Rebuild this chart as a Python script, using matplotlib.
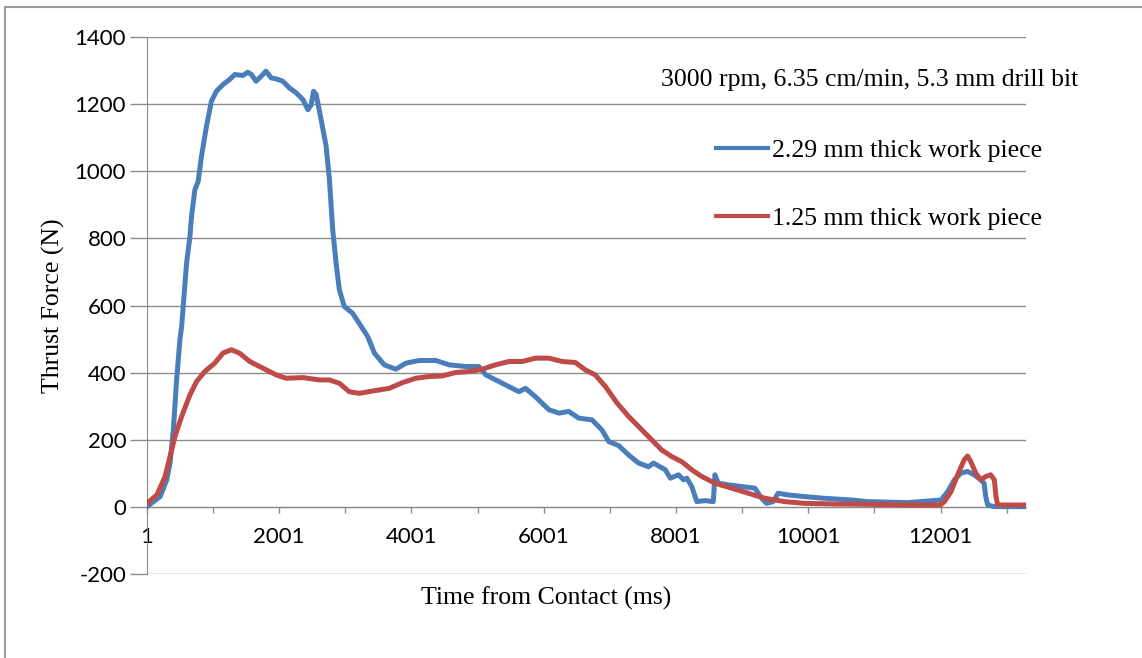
import matplotlib.pyplot as plt
from matplotlib.lines import Line2D
from matplotlib.ticker import FixedLocator

# values (ms, N)
time_thick = [1, 200, 300, 350, 400, 450, 500, 525, 600, 650, 675, 725, 775, 825,
              900, 975, 1050, 1150, 1250, 1330, 1450, 1525, 1580, 1650, 1730, 1800,
              1880, 1955, 2055, 2155, 2260, 2360, 2435, 2485, 2520, 2560, 2635, 2710,
              2760, 2810, 2860, 2910, 2985, 3110, 3210, 3340, 3440, 3590, 3765, 3915,
              4117, 4370, 4570, 4820, 5020, 5125, 5325, 5525, 5625, 5725, 5875, 6080,
              6230, 6380, 6530, 6730, 6880, 6985, 7135, 7285, 7435, 7585, 7660, 7840,
              7915, 8040, 8115, 8165, 8240, 8315, 8440, 8565, 8590, 8640, 8795, 8995,
              9195, 9295, 9370, 9470, 9545, 9695, 9945, 10245, 10650, 10900, 11500,
              12010, 12110, 12210, 12310, 12410, 12510, 12610, 12660, 12685, 12715,
              12815, 13290]
force_thick = [0, 30, 80, 130, 230, 380, 500, 537, 727, 805, 866, 945, 970, 1045,
               1134, 1209, 1239, 1259, 1274, 1289, 1286, 1296, 1289, 1269, 1284, 1299,
               1279, 1276, 1269, 1249, 1234, 1214, 1184, 1199, 1239, 1229, 1154, 1075,
               975, 826, 727, 647, 597, 577, 547, 507, 458, 423, 410, 428,
               436, 436, 423, 418, 418, 393, 373, 353, 343, 353, 328, 289,
               279, 284, 264, 259, 229, 194, 182, 154, 130, 119, 130, 110,
               85, 95, 80, 85, 60, 15, 18, 15, 95, 70, 65, 60,
               55, 25, 10, 15, 40, 35, 30, 25, 20, 15, 12,
               20, 45, 80, 100, 105, 95, 80, 70, 30, 5,
               0, 0]

time_thin = [1, 150, 275, 350, 425, 525, 650, 750, 875, 1025, 1150, 1275, 1400,
             1555, 1755, 1955, 2105, 2360, 2610, 2760, 2910, 3060, 3210, 3415, 3665,
             3865, 4065, 4265, 4465, 4665, 4870, 5070, 5270, 5475, 5675, 5875, 6080,
             6280, 6480, 6630, 6780, 6935, 7110, 7285, 7485, 7635, 7785, 7940, 8090,
             8240, 8390, 8590, 8845, 9095, 9345, 9645, 9945, 10400, 10900, 11500,
             12000, 12060, 12160, 12260, 12360, 12410, 12460, 12535, 12610, 12685,
             12760, 12815, 12840, 12865, 13290]
force_thin = [10, 35, 90, 150, 210, 269, 333, 373, 403, 428, 458, 468, 458,
              433, 413, 393, 383, 385, 378, 378, 368, 343, 338, 345, 353,
              370, 383, 388, 390, 400, 403, 410, 423, 433, 433, 443, 443,
              433, 430, 408, 393, 358, 309, 269, 229, 199, 169, 149, 134,
              110, 90, 70, 55, 40, 25, 15, 10, 8, 7, 5,
              5, 15, 45, 95, 140, 151, 134, 100, 80, 90,
              95, 80, 30, 5, 5]

labels = ['2.29 mm thick work piece', '1.25 mm thick work piece']
x_labels = [1, 2001, 4001, 6001, 8001, 10001, 12001]
x_minor = [1001, 3001, 5001, 7001, 9001, 11001, 13001]
y_ticks = list(range(-200, 1401, 200))

blue = '#4a7ebb'
red = '#be4b48'
grid_col = '#8c8c8c'


def main():
    plt.rcParams['axes.unicode_minus'] = False
    fig = plt.figure(figsize=(11.42, 6.58), dpi=100)
    ax = fig.add_axes([0.1287, 0.1281, 0.7695, 0.8152])

    ax.plot(time_thick, force_thick, color=blue, lw=3.6, label=labels[0],
            solid_joinstyle='round', zorder=3)
    ax.plot(time_thin, force_thin, color=red, lw=3.6, label=labels[1],
            solid_joinstyle='round', zorder=4)

    ax.set_xlim(1, 13290)
    ax.set_ylim(-200, 1400)

    # y axis: gridlines every 200, long outward ticks
    ax.set_yticks(y_ticks)
    ax.set_yticklabels([str(v) for v in y_ticks])
    ax.yaxis.grid(True, color=grid_col, lw=1.0)
    ax.set_axisbelow(True)
    ax.tick_params(axis='y', length=12, width=1.0, color=grid_col, pad=3,
                   labelsize=16)

    # x axis sits on the zero line
    ax.spines['bottom'].set_position(('data', 0))
    ax.spines['bottom'].set_color(grid_col)
    ax.spines['left'].set_color(grid_col)
    ax.spines['top'].set_visible(False)
    ax.spines['right'].set_visible(False)
    ax.set_xticks(x_labels)
    ax.set_xticklabels([str(v) for v in x_labels])
    ax.xaxis.set_minor_locator(FixedLocator(x_minor))
    ax.tick_params(axis='x', which='both', length=4, width=1.0, color=grid_col,
                   pad=11, labelsize=16)

    for lab in ax.get_xticklabels() + ax.get_yticklabels():
        lab.set_fontfamily('Lato')

    ax.set_xlabel('Time from Contact (ms)', family='Liberation Serif', fontsize=18.5)
    ax.xaxis.set_label_coords(0.454, -0.045)
    ax.xaxis.label.set_va('center')
    ax.set_ylabel('Thrust Force (N)', family='Liberation Serif', fontsize=18.5)
    ax.yaxis.set_label_coords(-0.093, 0.5)

    fig.text(0.579, 0.878, '3000 rpm, 6.35 cm/min, 5.3 mm drill bit',
             family='Liberation Serif', fontsize=18.5, va='center', ha='left')

    leg = ax.legend(loc='upper left', bbox_to_anchor=(0.648, 0.81),
                    frameon=False, prop={'family': 'Liberation Serif', 'size': 18.5},
                    handlelength=2.0, handletextpad=0.15, labelspacing=1.75,
                    borderaxespad=0, borderpad=0)
    for line in leg.get_lines():
        line.set_linewidth(3.0)

    # chart outer border (only left and top visible in the crop)
    fig.add_artist(Line2D([0.0044, 0.0044], [0, 0.99], color='#9a9a9a', lw=1.5,
                          transform=fig.transFigure))
    fig.add_artist(Line2D([0.0044, 1.0], [0.99, 0.99], color='#9a9a9a', lw=1.5,
                          transform=fig.transFigure))

    fig.savefig('out.png', dpi=100)


if __name__ == '__main__':
    main()
